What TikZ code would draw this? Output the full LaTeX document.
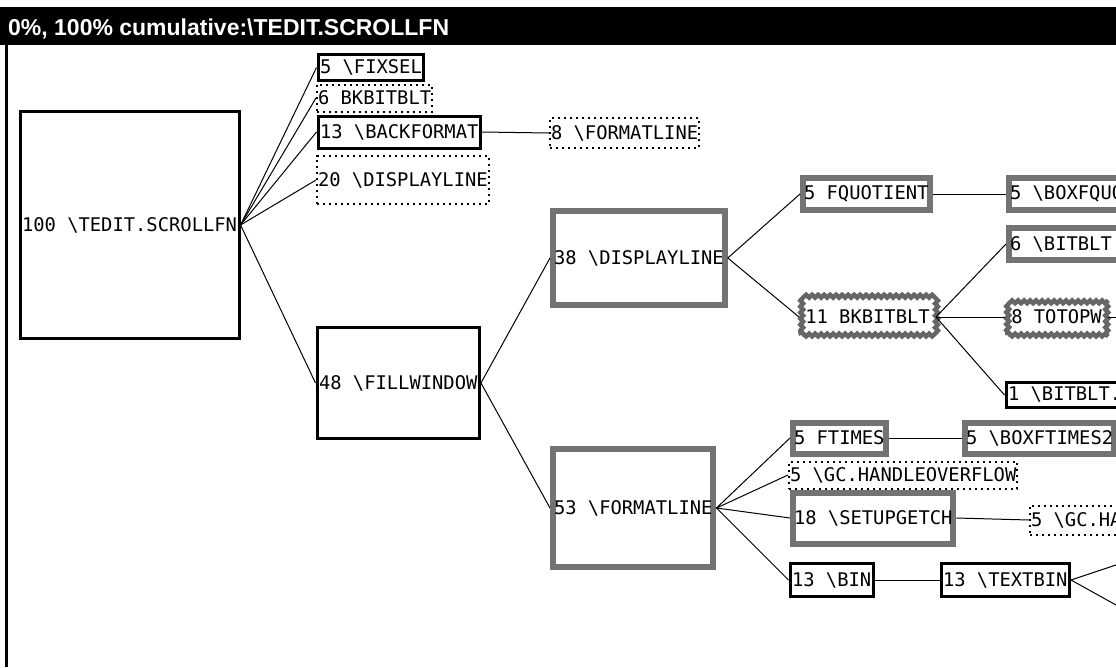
\documentclass[tikz,border=0pt]{standalone}
\usepackage{fontspec}
\setmainfont{Liberation Sans}
\setmonofont{DejaVu Sans Mono}
\usetikzlibrary{decorations.pathmorphing}
\newcommand*{\bsl}{\textbackslash}
\newcommand*{\fntext}{\ttfamily\fontsize{18.8}{20}\selectfont}

\begin{document}
\begin{tikzpicture}[x=1pt, y=-1pt,
  fn/.style = {anchor=west, font=\fntext, inner ysep=0pt},
  solidbox/.style = {fn, draw, line width=3pt, inner xsep=2pt},
  dotbox/.style = {fn, draw, line width=2pt, dash pattern=on 2pt off 4pt,
    inner xsep=1pt},
  greybox/.style = {fn, draw=black!55, line width=6pt, inner xsep=1pt},
  wavybox/.style = {fn, draw=black!60, line width=4.5pt, inner xsep=4pt,
    decorate, decoration={snake, amplitude=1.4pt, segment length=6pt}},
  link/.style = {line width=1pt}]
  \clip (0,0) rectangle (1116,667);
  \fill[white] (0,0) rectangle (1116,667);
  % title bar and window edge
  \fill[black] (0,7) rectangle (1116,45);
  \node[anchor=base west, text=white, inner sep=0pt,
    font=\fontsize{23}{24}\selectfont\bfseries] (title) at (8,35)
    {0\%, 100\% cumulative:\bsl TEDIT.SCROLLFN};
  \draw[line width=3pt] (6.5,45) -- (6.5,667);

  \node[solidbox, minimum height=227] (root) at (18.5,225) {100 \bsl TEDIT.SCROLLFN};

  \node[solidbox, minimum height=26] (fixsel) at (316.5,67.5) {5 \bsl FIXSEL};
  \node[dotbox, minimum height=27] (bkbitbltA) at (316,98) {6 BKBITBLT};
  \node[solidbox, minimum height=32] (backformat) at (316.5,132) {13 \bsl BACKFORMAT};
  \node[dotbox, minimum height=48] (displaylineA) at (316,180) {20 \bsl DISPLAYLINE};
  \node[dotbox, minimum height=30] (formatlineA) at (549,133) {8 \bsl FORMATLINE};
  \node[solidbox, minimum height=111] (fillwindow) at (315.5,383) {48 \bsl FILLWINDOW};

  \node[greybox, minimum height=94] (displaylineB) at (550,258) {38 \bsl DISPLAYLINE};
  \node[greybox, minimum height=118] (formatlineB) at (550,508) {53 \bsl FORMATLINE};

  \node[greybox, minimum height=32] (fquotient) at (800,194) {5 FQUOTIENT};
  \node[greybox, minimum height=32] (boxfquo) at (1006,194) {5 \bsl BOXFQUO};
  \node[wavybox, minimum height=36] (bkbitbltB) at (799,317) {11 BKBITBLT};
  \node[greybox, minimum height=32] (bitbltA) at (1006,244) {6 \bsl BITBLT.};
  \node[wavybox, minimum height=36] (totopw) at (1005,317) {8 TOTOPW};
  \node[solidbox, minimum height=25] (bitbltB) at (1004.5,395) {1 \bsl BITBLT.};

  \node[greybox, minimum height=31] (ftimes) at (790,438) {5 FTIMES};
  \node[greybox, minimum height=31] (boxftimes) at (962,438) {5 \bsl BOXFTIMES2};
  \node[dotbox, minimum height=27] (gcoverflow) at (788,475) {5 \bsl GC.HANDLEOVERFLOW};
  \node[greybox, minimum height=51] (setupgetch) at (790,518) {18 \bsl SETUPGETCH};
  \node[dotbox, minimum height=29] (gchandle) at (1029,520) {5 \bsl GC.HA};
  \node[solidbox, minimum height=33] (bin) at (788.5,580) {13 \bsl BIN};
  \node[solidbox, minimum height=33] (textbin) at (939.5,580) {13 \bsl TEXTBIN};

  \coordinate (totopwout) at (1116,317);
  \coordinate (textbinup) at (1116,565);
  \coordinate (textbindown) at (1116,605);

  \foreach \a/\b in {root/fixsel, root/bkbitbltA, root/backformat,
      root/displaylineA, root/fillwindow, backformat/formatlineA,
      fillwindow/displaylineB, fillwindow/formatlineB,
      displaylineB/fquotient, displaylineB/bkbitbltB, fquotient/boxfquo,
      bkbitbltB/bitbltA, bkbitbltB/totopw, bkbitbltB/bitbltB,
      formatlineB/ftimes, formatlineB/gcoverflow, formatlineB/setupgetch,
      formatlineB/bin, ftimes/boxftimes, setupgetch/gchandle, bin/textbin}
    \draw[link] (\a.east) -- (\b.west);
  \draw[link] (totopw.east) -- (totopwout);
  \draw[link] (textbin.east) -- (textbinup);
  \draw[link] (textbin.east) -- (textbindown);
\end{tikzpicture}
\end{document}
